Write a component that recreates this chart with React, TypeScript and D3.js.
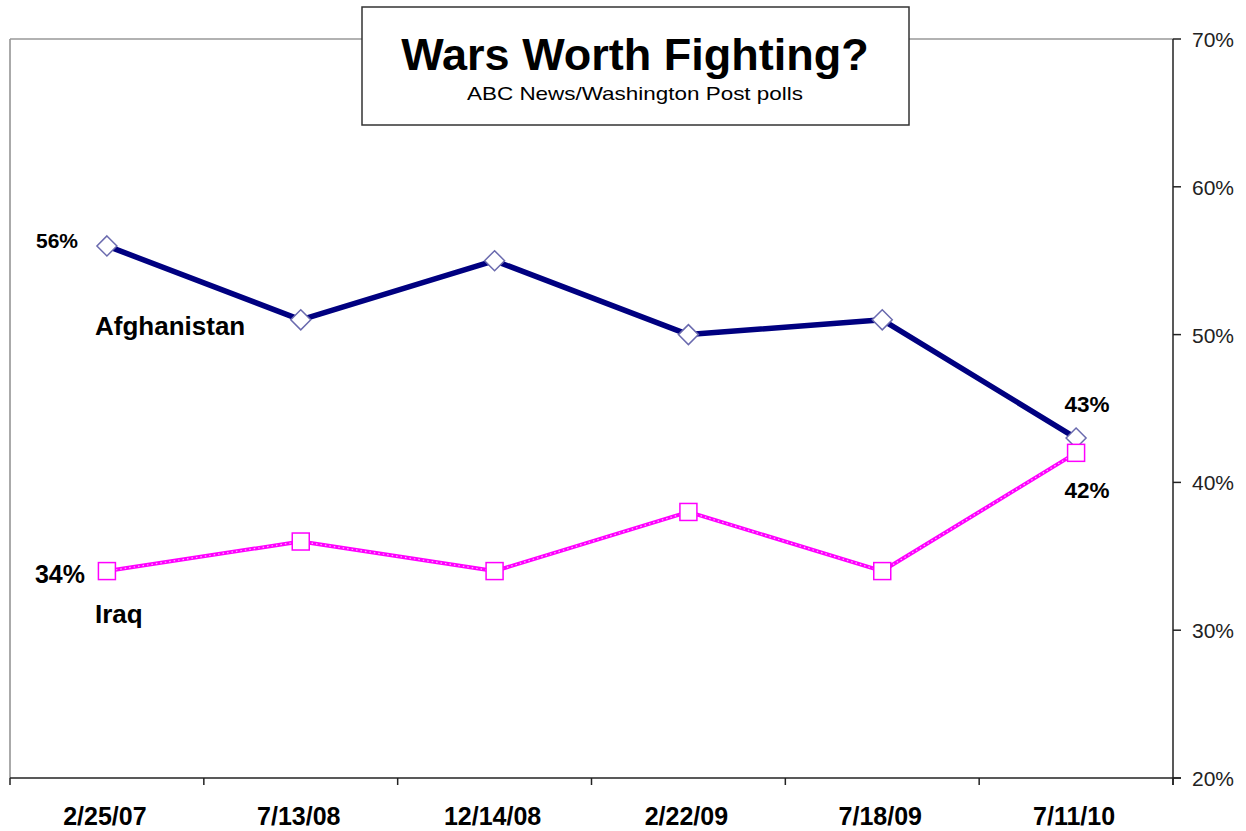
import React from "react";
import * as d3 from "d3";

const categories = ["2/25/07", "7/13/08", "12/14/08", "2/22/09", "7/18/09", "7/11/10"];
const afghanistan = [56, 51, 55, 50, 51, 43];
const iraq = [34, 36, 34, 38, 34, 42];
const yTicks = [20, 30, 40, 50, 60, 70];

const W = 1246, H = 831;
const left = 10, right = 1173, top = 39, bottom = 778;
const FONT = "'Liberation Sans', Arial, sans-serif";

export default function App() {
  const x = d3.scaleBand<string>().domain(categories).range([left, right]);
  const y = d3.scaleLinear().domain([20, 70]).range([bottom, top]);
  const cx = (i: number) => (x(categories[i]) as number) + x.bandwidth() / 2;
  const line = d3.line<number>().x((_, i) => cx(i)).y((d) => y(d));
  const bandEdges = categories.map((c) => x(c) as number).concat([right]);
  const last = categories.length - 1;

  return (
    <svg width={W} height={H} style={{ position: "absolute", left: 0, top: 0, background: "#fff" }} fontFamily={FONT}>
      {/* frame */}
      <line x1={left} x2={left} y1={top} y2={bottom} stroke="#aaa" strokeWidth={2} />
      <line x1={left} x2={right} y1={top} y2={top} stroke="#999" strokeWidth={1.5} />
      {/* right axis */}
      <line x1={right} x2={right} y1={top} y2={bottom + 7} stroke="#222" strokeWidth={1.5} />
      {yTicks.map((t) => (
        <g key={t}>
          <line x1={right} x2={right + 8} y1={y(t)} y2={y(t)} stroke="#222" strokeWidth={1.5} />
          <text x={right + 19} y={y(t) + 8} fontSize={21} fill="#222">{t}%</text>
        </g>
      ))}
      {/* bottom axis */}
      <line x1={left} x2={right + 8} y1={bottom} y2={bottom} stroke="#222" strokeWidth={1.5} />
      {bandEdges.map((e, i) => (
        <line key={i} x1={e} x2={e} y1={bottom} y2={bottom + 7} stroke="#222" strokeWidth={1.5} />
      ))}
      {categories.map((c, i) => (
        <text key={c} x={cx(i) - 2} y={825} textAnchor="middle" fontSize={25} fontWeight="bold" fill="#000">{c}</text>
      ))}
      {/* lines */}
      <path d={line(afghanistan) || ""} fill="none" stroke="#000080" strokeWidth={5.5} strokeLinejoin="round" />
      <path d={line(iraq) || ""} fill="none" stroke="#ff00ff" strokeWidth={4} strokeLinejoin="round" />
      <path d={line(iraq) || ""} fill="none" stroke="#ffb0ff" strokeWidth={1.2} strokeDasharray="1.5 3" />
      {afghanistan.map((v, i) => (
        <path key={i} d={`M${cx(i)},${y(v) - 10} L${cx(i) + 10},${y(v)} L${cx(i)},${y(v) + 10} L${cx(i) - 10},${y(v)} Z`}
          fill="#fff" stroke="#6a6aae" strokeWidth={1.5} />
      ))}
      {iraq.map((v, i) => (
        <rect key={i} x={cx(i) - 8.5} y={y(v) - 8.5} width={17} height={17} fill="#fff" stroke="#ff00ff" strokeWidth={1.5} />
      ))}
      {/* labels */}
      <text x={57} y={248} textAnchor="middle" fontSize={21} fontWeight="bold">{afghanistan[0]}%</text>
      <text x={95} y={335} fontSize={26} fontWeight="bold">Afghanistan</text>
      <text x={60} y={583} textAnchor="middle" fontSize={25} fontWeight="bold">{iraq[0]}%</text>
      <text x={95} y={623} fontSize={26} fontWeight="bold">Iraq</text>
      <text x={1087} y={412} textAnchor="middle" fontSize={22.5} fontWeight="bold">{afghanistan[last]}%</text>
      <text x={1087} y={498} textAnchor="middle" fontSize={22.5} fontWeight="bold">{iraq[last]}%</text>
      {/* title box */}
      <rect x={362} y={7} width={547} height={118} fill="#fff" stroke="#333" strokeWidth={1.5} />
      <text x={635} y={70} textAnchor="middle" fontSize={45} fontWeight="bold">Wars Worth Fighting?</text>
      <text x={635} y={100} textAnchor="middle" fontSize={19} textLength={336} lengthAdjust="spacingAndGlyphs">ABC News/Washington Post polls</text>
    </svg>
  );
}
